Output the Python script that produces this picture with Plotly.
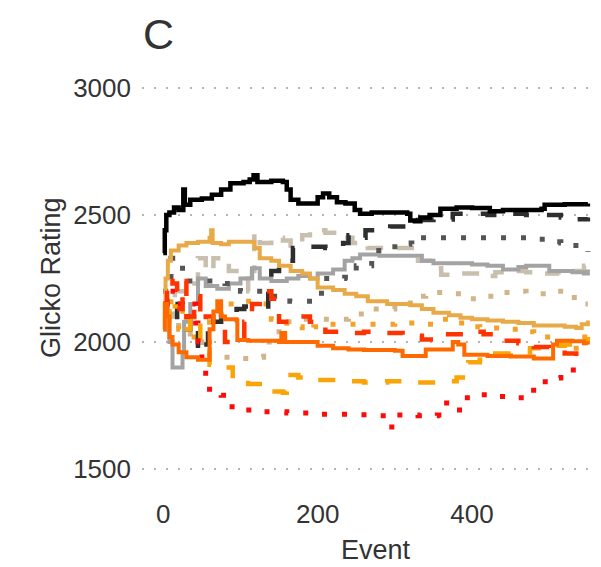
import plotly.graph_objects as go

# ---- data: (event, Glicko rating) ----
black_solid = [(0, 2350), (2, 2440), (4, 2500), (8, 2510), (14, 2530), (20, 2520), (26, 2600), (28, 2540),
               (35, 2560), (50, 2565), (63, 2580), (75, 2600), (87, 2625), (104, 2630), (112, 2640), (117, 2657),
               (122, 2630), (140, 2635), (155, 2630), (160, 2600), (165, 2560), (175, 2545), (194, 2545),
               (200, 2570), (207, 2585), (215, 2570), (225, 2550), (236, 2545), (248, 2520), (255, 2505),
               (270, 2510), (300, 2510), (316, 2505), (320, 2478), (326, 2475), (333, 2490), (345, 2500),
               (359, 2525), (380, 2530), (400, 2528), (423, 2515), (440, 2520), (460, 2520), (490, 2525),
               (494, 2540), (520, 2542), (550, 2545)]

dark_dashed = [(0, 2120), (5, 2180), (12, 2150), (18, 2080), (25, 2050), (35, 2090), (45, 1960), (52, 1990),
               (58, 2090), (65, 2080), (75, 2110), (95, 2130), (105, 2140), (125, 2140), (136, 2200), (140, 2280),
               (150, 2300), (160, 2320), (168, 2370), (190, 2375), (210, 2370), (233, 2390), (240, 2420),
               (255, 2410), (262, 2440), (280, 2445), (294, 2455), (315, 2460), (330, 2480), (350, 2482),
               (375, 2505), (400, 2505), (420, 2500), (445, 2505), (470, 2500), (500, 2500), (515, 2490),
               (535, 2483), (550, 2490)]

dark_dotted = [(0, 2200), (10, 2330), (20, 2300), (25, 2240), (60, 2240), (80, 2230), (100, 2200), (130, 2180),
               (164, 2160), (195, 2160), (205, 2250), (235, 2255), (250, 2300), (270, 2360), (300, 2390),
               (322, 2385), (333, 2410), (380, 2410), (420, 2410), (480, 2405), (500, 2395), (515, 2390),
               (530, 2380), (550, 2355)]

tan_longdash = [(0, 2100), (15, 2200), (30, 2230), (45, 2330), (55, 2280), (65, 2330), (85, 2280), (100, 2250),
                (110, 2200), (115, 2280), (118, 2430), (125, 2390), (140, 2410), (155, 2400), (165, 2380),
                (180, 2420), (190, 2440), (210, 2430), (230, 2410), (245, 2390), (265, 2370), (300, 2370),
                (315, 2370), (330, 2320), (350, 2290), (360, 2265), (385, 2270), (410, 2260), (430, 2275),
                (450, 2280), (470, 2275), (490, 2270), (510, 2275), (530, 2280), (545, 2300), (550, 2290)]

gray_solid = [(0, 2050), (3, 2120), (8, 2000), (12, 1900), (20, 1900), (25, 1960), (27, 2080), (35, 2150),
              (45, 2250), (55, 2220), (70, 2210), (85, 2230), (100, 2250), (110, 2250), (115, 2290), (125, 2250),
              (140, 2240), (160, 2250), (175, 2260), (190, 2250), (200, 2270), (220, 2285), (235, 2320),
              (245, 2330), (255, 2345), (280, 2340), (320, 2340), (335, 2320), (350, 2310), (400, 2305),
              (420, 2300), (440, 2285), (460, 2295), (470, 2300), (490, 2300), (500, 2280), (515, 2280),
              (530, 2275), (545, 2270), (550, 2285)]

gold_solid = [(0, 2050), (3, 2250), (6, 2320), (10, 2360), (20, 2380), (30, 2390), (45, 2395), (60, 2410),
              (62, 2440), (64, 2390), (75, 2385), (85, 2395), (110, 2395), (118, 2370), (125, 2330), (140, 2320),
              (150, 2300), (165, 2280), (180, 2270), (190, 2250), (200, 2215), (220, 2205), (235, 2190),
              (250, 2180), (265, 2160), (290, 2150), (320, 2145), (335, 2130), (350, 2115), (370, 2105),
              (385, 2095), (400, 2090), (420, 2085), (440, 2080), (460, 2075), (480, 2065), (500, 2065),
              (520, 2060), (535, 2055), (542, 2070), (550, 2085)]

tan_dotted = [(0, 2050), (10, 2150), (20, 2050), (35, 2000), (50, 1960), (60, 1940), (80, 1940), (100, 1935),
              (120, 1940), (130, 2000), (150, 2080), (180, 2090), (220, 2090), (240, 2110), (270, 2130),
              (300, 2150), (320, 2180), (340, 2195), (370, 2190), (390, 2170), (410, 2180), (430, 2195),
              (450, 2200), (470, 2190), (490, 2190), (510, 2200), (525, 2175), (540, 2150), (550, 2150)]

orange_dotted = [(0, 2100), (10, 2170), (20, 2050), (30, 2120), (40, 2020), (50, 2000), (60, 2080), (75, 2150),
                 (100, 2160), (125, 2150), (140, 2090), (160, 2060), (180, 2045), (195, 2060), (215, 2070),
                 (245, 2070), (270, 2070), (300, 2075), (330, 2070), (350, 2090), (370, 2075), (390, 2060),
                 (410, 2055), (435, 2050), (460, 2040), (480, 2020), (500, 2020), (515, 1980), (530, 1975),
                 (540, 2020), (550, 2020)]

orange_dashed = [(0, 2120), (8, 2080), (15, 2140), (25, 2050), (35, 2100), (48, 2000), (55, 1970), (60, 1910),
                 (75, 1900), (90, 1850), (110, 1835), (140, 1805), (155, 1800), (160, 1870), (175, 1860),
                 (195, 1850), (230, 1845), (260, 1840), (290, 1845), (320, 1840), (360, 1845), (380, 1860),
                 (395, 1920), (410, 1930), (430, 1955), (450, 1960), (475, 1975), (500, 1985), (520, 1990),
                 (535, 1990), (545, 2010), (550, 2020)]

red_dashed = [(0, 2150), (5, 2250), (12, 2230), (18, 2130), (25, 2240), (30, 2100), (40, 2180), (48, 2080),
              (55, 2100), (65, 2050), (80, 2000), (95, 2010), (105, 2080), (115, 2150), (125, 2200), (140, 2170),
              (150, 2080), (170, 2100), (190, 2080), (210, 2040), (240, 2035), (260, 2040), (290, 2035),
              (310, 2025), (335, 2010), (350, 2030), (370, 2030), (390, 2040), (415, 2030), (440, 2005),
              (460, 1995), (480, 1980), (500, 1975), (520, 1955), (535, 1945), (550, 1935)]

orangered_solid = [(0, 2050), (2, 2150), (5, 2100), (8, 2020), (12, 1990), (20, 1960), (30, 1940), (45, 1930),
                   (58, 1930), (60, 2050), (65, 2120), (70, 2160), (75, 2100), (80, 2090), (95, 2085), (96, 2008),
                   (110, 2005), (150, 2000), (153, 2035), (158, 2000), (190, 2000), (200, 1985), (220, 1975),
                   (240, 1970), (260, 1968), (300, 1965), (310, 1945), (335, 1945), (340, 1970), (365, 1970),
                   (375, 2000), (382, 1990), (390, 1950), (420, 1945), (450, 1943), (480, 1935), (500, 1935),
                   (505, 1990), (510, 2005), (530, 2003), (545, 1995), (550, 1990)]

red_dotted = [(0, 2150), (5, 2200), (15, 2150), (25, 2100), (35, 2150), (42, 2075), (45, 2000), (50, 1930),
              (55, 1860), (60, 1800), (75, 1790), (85, 1745), (100, 1732), (130, 1725), (160, 1720), (200, 1715),
              (240, 1713), (275, 1710), (290, 1665), (300, 1712), (330, 1710), (355, 1712), (362, 1760),
              (380, 1732), (390, 1780), (400, 1792), (430, 1785), (455, 1780), (470, 1810), (485, 1843),
              (505, 1858), (515, 1890), (540, 1890), (550, 1890)]

x_ticks = [0, 200, 400]
y_ticks = [1500, 2000, 2500, 3000]

# ---- styles (kept separate from data) ----
DOT = "5px,15px"
DASH = "17px,18px"
LONGDASH = "17px,14px"
series = [
    (tan_dotted, "#d2b48c", DOT, 5),
    (orange_dotted, "#f2a22a", DOT, 5),
    (tan_longdash, "#c9bfae", LONGDASH, 4.5),
    (gray_solid, "#a3a3a3", "solid", 4),
    (dark_dotted, "#555555", DOT, 5),
    (dark_dashed, "#2e2e2e", DASH, 4.5),
    (gold_solid, "#e8aa48", "solid", 4),
    (orange_dashed, "#fba406", DASH, 4.5),
    (red_dotted, "#ff0a0a", DOT, 5),
    (red_dashed, "#ff3300", DASH, 4.5),
    (orangered_solid, "#ff6a00", "solid", 4),
    (black_solid, "#000000", "solid", 4.5),
]

fig = go.Figure()
for data, color, dash, w in series:
    fig.add_trace(go.Scatter(
        x=[p[0] for p in data], y=[p[1] for p in data], mode="lines",
        line=dict(color=color, width=w, dash=dash, shape="hv"),
        showlegend=False, hoverinfo="skip"))

FONT = "Liberation Sans, Arial, sans-serif"
OFF = 8  # page body margin offsets the figure by 8px
W, H = 601 - OFF, 567 - OFF
L, R, T, B = 142 - OFF, 0, 69 - OFF, 567 - 488
pw, ph = W - L - R, H - T - B

def px(xpix):
    """reference-image x pixel -> paper coordinate"""
    return (xpix - OFF - L) / pw

def py(ypix):
    """reference-image y pixel -> paper coordinate"""
    return (H - B - (ypix - OFF)) / ph

fig.update_layout(
    width=W, height=H, margin=dict(l=L, r=R, t=T, b=B, autoexpand=False),
    paper_bgcolor="white", plot_bgcolor="white",
    font=dict(family=FONT, color="#333333"),
    xaxis=dict(range=[-27.5, 567], tickvals=x_ticks, showgrid=False, zeroline=False,
               showline=False, ticks="", tickfont=dict(size=26, color="#333333"),
               ticklabelstandoff=8, automargin=False),
    yaxis=dict(range=[1425, 3075], tickvals=y_ticks, showgrid=True, gridcolor="#b5b5b5",
               gridwidth=2, griddash="2px,10px", zeroline=False, showline=False, ticks="",
               tickfont=dict(size=26, color="#333333"), ticklabelstandoff=10, automargin=False),
)

# axis titles and panel letter
fig.add_annotation(text="Event", x=px(376), y=py(550), xref="paper", yref="paper",
                   showarrow=False, font=dict(size=27, color="#333333", family=FONT),
                   xanchor="center", yanchor="middle")
fig.add_annotation(text="Glicko Rating", x=px(51), y=py(278), xref="paper", yref="paper",
                   showarrow=False, textangle=-90, font=dict(size=27, color="#333333", family=FONT),
                   xanchor="center", yanchor="middle")
fig.add_annotation(text="C", x=px(142), y=py(9), xref="paper", yref="paper",
                   showarrow=False, font=dict(size=43, color="#333333", family=FONT),
                   xanchor="left", yanchor="top", borderpad=0)

fig.write_html("out.html")
